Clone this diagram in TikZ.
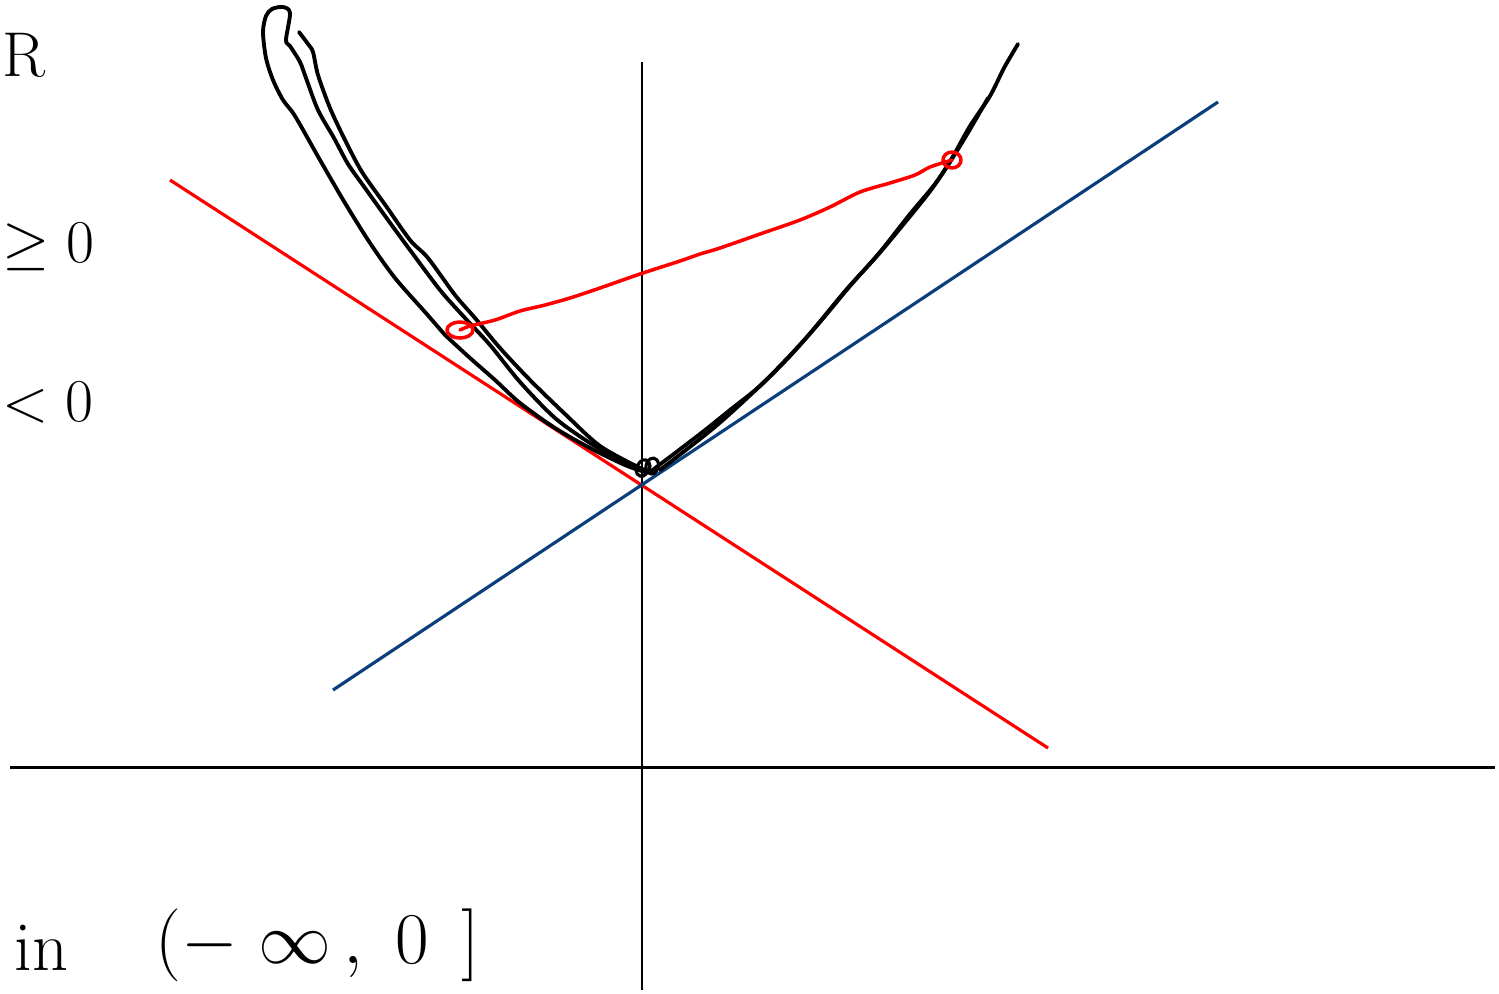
\documentclass[tikz,border=0pt]{standalone}
\usetikzlibrary{positioning}
\definecolor{tanblue}{HTML}{0B3F7C}
\begin{document}
\begin{tikzpicture}[x=0.01cm, y=-0.01cm,
                    axis/.style={black, line width=0.85pt},
                    curve/.style={black, line width=1.1pt, line join=round, line cap=round},
                    tangent/.style={line width=0.9pt},
                    chord/.style={red, line width=1pt, line join=round, line cap=round},
                    hand/.style={inner sep=0pt, font=\fontsize{16}{18}\selectfont}]
\useasboundingbox (0,0) rectangle (1499,993);
% axes
\coordinate (xl) at (10,767);
\coordinate (xr) at (1495,767);
\coordinate (yt) at (642,62);
\coordinate (yb) at (642,990);
\draw[axis] (xl) -- (xr);
\draw[axis] (yt) -- (yb);
% supporting lines through the kink
\coordinate (r1) at (170,180);
\coordinate (r2) at (1048,748);
\coordinate (b1) at (333,690);
\coordinate (b2) at (1218,102);
\draw[tangent, red] (r1) -- (r2);
\draw[tangent, tanblue] (b1) -- (b2);
% the function
\draw[curve] plot[smooth, tension=0.5] coordinates {(445,335) (425,312) (395,278) (370,243)
    (345,203) (320,160) (295,116) (283,100) (273,80) (266,58) (263,32) (266,16) (272,9)
    (283,7) (290,13) (286,40) (290,46) (300,62) (306,78) (318,110) (334,138) (348,164)
    (365,188) (388,220) (410,250) (440,290) (465,318) (490,345) (520,382) (555,418)
    (590,443) (620,460) (645,470)};
\draw[curve] plot[smooth, tension=0.5] coordinates {(445,335) (470,358) (495,380) (520,403)
    (555,428) (590,448) (625,465) (645,472)};
\draw[curve] plot[smooth, tension=0.5] coordinates {(299,32) (308,44) (313,52) (318,75)
    (330,108) (345,140) (362,172) (386,206) (410,240) (428,258) (455,295) (475,318)
    (500,348) (530,380) (565,414) (600,446) (640,468)};
\draw[curve] plot[smooth, tension=0.5] coordinates {(650,472) (700,434) (730,410) (760,386)
    (790,356) (820,322) (850,286) (880,252) (910,214) (935,184) (952,158) (970,126)
    (990,96) (1004,68) (1018,44)};
\draw[curve] plot[smooth, tension=0.5] coordinates {(660,470) (716,426) (766,380) (806,338)
    (846,290) (877,256) (907,220) (931,190) (950,162) (969,131) (988,98)};
\draw[curve, line width=0.9pt] plot[smooth cycle, tension=0.8] coordinates {(636,470) (640,462)
    (646,460) (650,466) (646,474) (640,476)};
\draw[curve, line width=0.9pt] plot[smooth cycle, tension=0.8] coordinates {(646,468) (650,459)
    (657,460) (658,468) (652,474)};
% chord between two points of the graph
\coordinate (pl) at (460,330);
\coordinate (pr) at (952,160);
\draw[chord] (pl) ellipse [x radius=13, y radius=8];
\draw[chord] (pr) ellipse [x radius=9, y radius=8];
\draw[chord] plot[smooth, tension=0.5] coordinates {(pl) (470,326) (495,320) (520,311)
    (545,305) (570,298) (600,288) (640,274) (680,261) (700,254) (720,248) (760,234)
    (800,220) (830,207) (860,192) (890,183) (915,175) (930,167) (pr)};
% handwritten notes at the left edge
\node[hand, anchor=west, font=\fontsize{18}{20}\selectfont] (reals) at (2,55) {R};
\node[hand, anchor=west] (nonneg) at (2,247) {$\geq0$};
\node[hand, anchor=west] (neg) at (2,403) {$<0$};
\node[hand, anchor=west, font=\fontsize{20}{22}\selectfont] (inword) at (14,948) {in};
\node[hand, anchor=west, font=\fontsize{22}{24}\selectfont] (range) at (155,945) {$(-\;\infty\,,\;0\;\,]$};
\end{tikzpicture}
\end{document}
